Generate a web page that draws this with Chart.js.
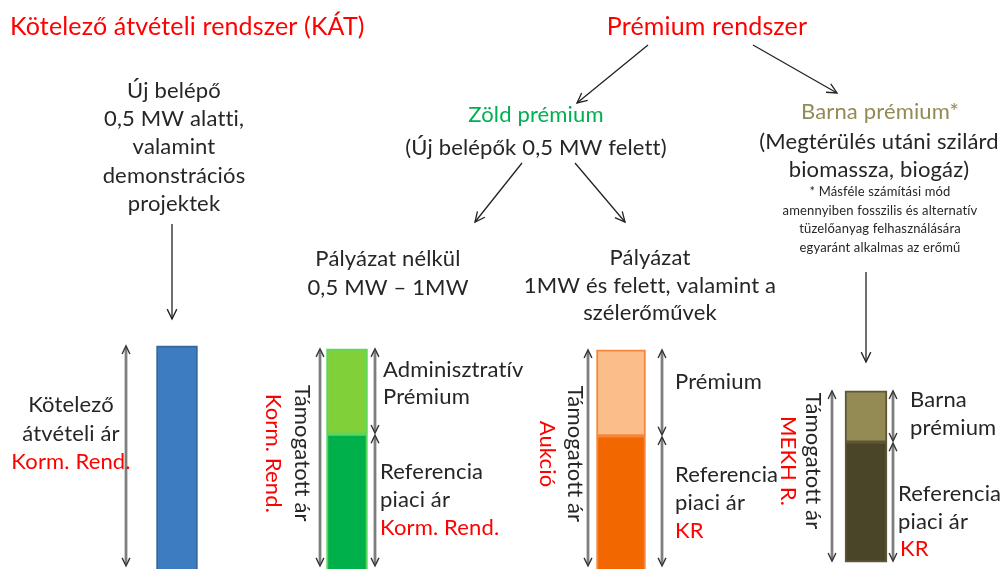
<!DOCTYPE html>
<html lang="hu">
<head>
<meta charset="utf-8">
<title>KÁT és prémium rendszer</title>
<script src="https://cdn.jsdelivr.net/npm/chart.js@4.4.1/dist/chart.umd.min.js"></script>
<style>
  html, body { margin: 0; padding: 0; background: #fff; }
  #wrap { position: relative; width: 1001px; height: 569px; }
</style>
</head>
<body>
<div id="wrap"><canvas id="chart"></canvas></div>
<script>
// oszlopok
const categories = ["KÁT", "Zöld prémium – pályázat nélkül", "Zöld prémium – pályázat", "Barna prémium"];
// a sáv alja (az első három a kép alján túl folytatódik)
const barBase = [-5, -5, -5, 1.2];
// referencia piaci ár (KÁT-nál maga a kötelező átvételi ár)
const referencePrice = [39.2, 23.7, 23.4, 22.3];
// támogatott ár = referencia + prémium
const supportedPrice = [39.2, 38.7, 38.5, 31.3];

// elrendezés, színek
const columnX = [177, 347, 621, 866];
const columnWidth = [41, 41, 49, 42];
const baseColors = ["#3D7CC0", "#00B04A", "#F26700", "#4A4428"];
const topColors = [null, "#80D03A", "#FBBE8A", "#948A54"];
const borderColors = ["#34679C", "#5CD65C", "#F5873A", "#5E5634"];

const FONT = "Lato, 'Open Sans', sans-serif";
const RED = "#FF0000";
const INK = "#262626";
const BODY = 22;

const datasets = [];
categories.forEach((c, i) => {
  datasets.push({
    label: c + " – alap",
    data: [{ x: columnX[i], y: [barBase[i], referencePrice[i]] }],
    backgroundColor: baseColors[i],
    borderColor: borderColors[i],
    borderWidth: 2,
    borderSkipped: false,
    barThickness: columnWidth[i],
    grouped: false,
  });
  if (supportedPrice[i] > referencePrice[i]) {
    datasets.push({
      label: c + " – prémium",
      data: [{ x: columnX[i], y: [referencePrice[i], supportedPrice[i]] }],
      backgroundColor: topColors[i],
      borderColor: borderColors[i],
      borderWidth: 2,
      borderSkipped: false,
      barThickness: columnWidth[i],
      grouped: false,
    });
  }
});

function text(ctx, str, x, y, size, color, align, weight) {
  ctx.save();
  ctx.font = (weight || "normal") + " " + size + "px " + FONT;
  ctx.letterSpacing = "0.15px"; // nincs "tt" ligatúra
  ctx.fillStyle = color || INK;
  ctx.textAlign = align || "center";
  ctx.textBaseline = "middle";
  ctx.fillText(str, x, y);
  ctx.restore();
}

function lines(ctx, arr, x, y0, lh, size, align) {
  arr.forEach((l, k) => {
    const s = typeof l === "string" ? l : l.t;
    const col = typeof l === "string" ? INK : l.c;
    text(ctx, s, x, y0 + k * lh, size, col, align);
  });
}

function vtext(ctx, str, x, y, size, color) {
  ctx.save();
  ctx.translate(x, y);
  ctx.rotate(Math.PI / 2);
  ctx.font = size + "px " + FONT;
  ctx.letterSpacing = "0.15px";
  ctx.fillStyle = color;
  ctx.textAlign = "center";
  ctx.textBaseline = "middle";
  ctx.fillText(str, 0, 0);
  ctx.restore();
}

function head(ctx, x, y, ang, len) {
  const a = 0.45;
  ctx.beginPath();
  ctx.moveTo(x - len * Math.cos(ang - a), y - len * Math.sin(ang - a));
  ctx.lineTo(x, y);
  ctx.lineTo(x - len * Math.cos(ang + a), y - len * Math.sin(ang + a));
  ctx.stroke();
}

function arrow(ctx, x1, y1, x2, y2) {
  ctx.save();
  ctx.strokeStyle = "#222";
  ctx.lineWidth = 1.3;
  ctx.beginPath();
  ctx.moveTo(x1, y1);
  ctx.lineTo(x2, y2);
  ctx.stroke();
  head(ctx, x2, y2, Math.atan2(y2 - y1, x2 - x1), 11);
  ctx.restore();
}

function dblArrow(ctx, x, y1, y2) {
  ctx.save();
  ctx.strokeStyle = "#555";
  ctx.lineWidth = 2.6;
  ctx.beginPath();
  ctx.moveTo(x, y1 + 2);
  ctx.lineTo(x, y2 - 2);
  ctx.stroke();
  ctx.strokeStyle = "#a8a8a8";
  ctx.lineWidth = 1;
  ctx.stroke();
  ctx.strokeStyle = "#333";
  ctx.lineWidth = 1.4;
  head(ctx, x, y1, -Math.PI / 2, 9);
  head(ctx, x, y2, Math.PI / 2, 9);
  ctx.restore();
}

const diagramPlugin = {
  id: "diagram",
  afterDatasetsDraw(chart) {
    const ctx = chart.ctx;
    const ys = chart.scales.y;
    const py = v => ys.getPixelForValue(v);
    const bottom = i => Math.min(py(barBase[i]) - 1, 566);

    // címek
    text(ctx, "Kötelező átvételi rendszer (KÁT)", 10, 27, 25, RED, "left");
    text(ctx, "Prémium rendszer", 707, 27, 25, RED);
    arrow(ctx, 648, 45, 577, 103);
    arrow(ctx, 753, 45, 837, 93);

    text(ctx, "Zöld prémium", 536, 115, BODY, "#00B050");
    text(ctx, "(Új belépők 0,5 MW felett)", 536, 148, BODY, INK);
    arrow(ctx, 522, 163, 475, 222);
    arrow(ctx, 575, 163, 625, 222);

    text(ctx, "Barna prémium*", 880, 112, BODY, "#948A54");
    lines(ctx, ["(Megtérülés utáni szilárd", "biomassza, biogáz)"], 879, 142, 28, BODY);
    lines(ctx, ["* Másféle számítási mód", "amennyiben fosszilis és alternatív",
      "tüzelőanyag felhasználására", "egyaránt alkalmas az erőmű"], 880, 192, 18.5, 13);

    // KÁT oszlop fölött
    lines(ctx, ["Új belépő", "0,5 MW alatti,", "valamint", "demonstrációs", "projektek"], 174, 91, 28.2, BODY);
    arrow(ctx, 172, 224, 172, 319);

    lines(ctx, ["Pályázat nélkül", "0,5 MW – 1MW"], 388, 259, 29, BODY);
    lines(ctx, ["Pályázat", "1MW és felett, valamint a", "szélerőművek"], 650, 258, 27.5, BODY);
    arrow(ctx, 866, 272, 866, 362);

    // KÁT oszlop
    dblArrow(ctx, columnX[0] - 51, py(supportedPrice[0]), bottom(0));
    lines(ctx, ["Kötelező", "átvételi ár", { t: "Korm. Rend.", c: RED }], 71, 405, 28.5, BODY);

    // zöld, narancs, barna oszlop
    const side = [
      { l: 27, r: 28, vb: 45, vr: 74, red: "Korm. Rend." },
      { l: 33, r: 41, vb: 46, vr: 74, red: "Aukció" },
      { l: 34, r: 27, vb: 53, vr: 78, red: "MEKH R." },
    ];
    side.forEach((s, k) => {
      const i = k + 1;
      const cx = columnX[i];
      const top = py(supportedPrice[i]);
      const mid = py(referencePrice[i]);
      const bot = bottom(i);
      dblArrow(ctx, cx - s.l, top, bot);
      dblArrow(ctx, cx + s.r, top, mid - 1);
      dblArrow(ctx, cx + s.r, mid + 1, bot);
      const vc = (top + bot) / 2 + (i === 3 ? -15 : -4);
      vtext(ctx, "Támogatott ár", cx - s.vb, vc, BODY, INK);
      vtext(ctx, s.red, cx - s.vr, vc, BODY, RED);
    });

    // jobb oldali feliratok
    lines(ctx, ["Adminisztratív", "Prémium"], 383, 370, 27, BODY, "left");
    lines(ctx, ["Referencia", "piaci ár", { t: "Korm. Rend.", c: RED }], 380, 472, 28, BODY, "left");
    text(ctx, "Prémium", 675, 382, BODY, INK, "left");
    lines(ctx, ["Referencia", "piaci ár", { t: "KR", c: RED }], 675, 475, 28, BODY, "left");
    lines(ctx, ["Barna", "prémium"], 910, 400, 28, BODY, "left");
    lines(ctx, ["Referencia", "piaci ár"], 898, 494, 28, BODY, "left");
    text(ctx, "KR", 900, 549, BODY, RED, "left");
  },
};

new Chart(document.getElementById("chart"), {
  type: "bar",
  data: { datasets },
  options: {
    responsive: true,
    maintainAspectRatio: false,
    animation: false,
    events: [],
    layout: { padding: 0 },
    plugins: { legend: { display: false }, tooltip: { enabled: false } },
    scales: {
      x: { type: "linear", min: 0, max: 1001, offset: false, display: false },
      y: { min: 0, max: 100, display: false },
    },
  },
  plugins: [diagramPlugin],
});
</script>
</body>
</html>
